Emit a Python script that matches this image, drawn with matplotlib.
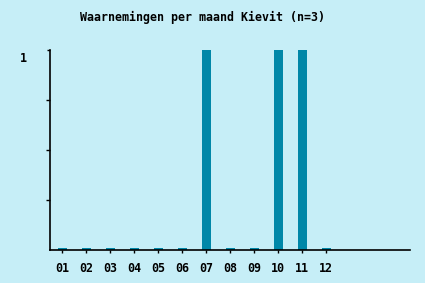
#!/usr/bin/env python3

import matplotlib
matplotlib.use('Agg')
import matplotlib.pyplot as plt
import matplotlib.transforms as mtransforms

# waarnemingen per maand
maanden = ['01', '02', '03', '04', '05', '06', '07', '08', '09', '10', '11', '12']
aantallen = [0, 0, 0, 0, 0, 0, 1, 0, 0, 1, 1, 0]

bg = '#c6eef7'
balk = '#0087a8'

fig = plt.figure(figsize=(4.25, 2.83), dpi=100, facecolor=bg)
ax = fig.add_axes([50 / 425, 33 / 283, 360 / 425, 200 / 283])
ax.set_facecolor(bg)

x = list(range(1, len(maanden) + 1))
hoogte = [a if a > 0 else 0.012 for a in aantallen]  # nul als klein streepje
ax.bar(x, hoogte, width=0.375, color=balk, linewidth=0)

ax.set_xlim(0.5, 15.5)
ax.set_ylim(0, 1)
ax.set_xticks(x)
ax.set_xticklabels(maanden)
ax.set_yticks([1])
ax.set_yticklabels(['1'])
ax.set_yticks([0.25, 0.5, 0.75], minor=True)

for s in ['top', 'right']:
    ax.spines[s].set_visible(False)
for s in ['left', 'bottom']:
    ax.spines[s].set_linewidth(1.2)

lettertype = dict(family='DejaVu Sans Mono', weight='bold', size=8.4)
for lab in ax.get_xticklabels() + ax.get_yticklabels():
    lab.set_fontfamily('DejaVu Sans Mono')
    lab.set_fontweight('bold')
    lab.set_fontsize(8.4)

ax.tick_params(axis='x', length=2, width=1, pad=6.5)
ax.tick_params(axis='y', which='major', length=2, width=1, pad=15)
ax.tick_params(axis='y', which='minor', length=3, width=1)

# label "1" iets lager zetten, zoals in het origineel
verschuif = mtransforms.ScaledTranslation(0, -7 / 100, fig.dpi_scale_trans)
for lab in ax.get_yticklabels():
    lab.set_transform(lab.get_transform() + verschuif)

fig.text(203 / 425, 1 - 17 / 283, 'Waarnemingen per maand Kievit (n=3)',
         ha='center', va='center', **lettertype)

plt.savefig('out.png', dpi=100, facecolor=bg)
